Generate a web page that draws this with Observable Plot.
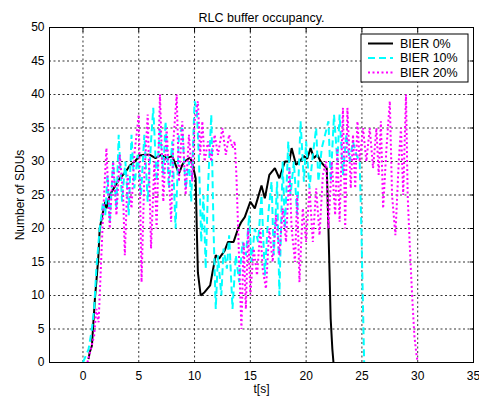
<!DOCTYPE html>
<html><head><meta charset="utf-8">
<script src="https://cdn.jsdelivr.net/npm/d3@7"></script>
<script src="https://cdn.jsdelivr.net/npm/@observablehq/plot@0.6"></script>
<style>
body{margin:0;background:#fff;}
#chart{position:relative;width:479px;height:400px;font-family:"Liberation Sans",Arial,sans-serif;}
</style>
</head><body><div id="chart"></div>
<script>
const title = "RLC buffer occupancy.";
const xLabel = "t[s]";
const yLabel = "Number of SDUs";
const seriesNames = ["BIER 0%", "BIER 10%", "BIER 20%"];
const seriesColors = ["#000000", "#00ffff", "#ff00ff"];
const seriesDash = [null, "7,4", "2,2.5"];
const xTicks = [0, 5, 10, 15, 20, 25, 30, 35];
const yTicks = [0, 5, 10, 15, 20, 25, 30, 35, 40, 45, 50];

// BIER 0%
const t0 = [0.5,0.6,0.8,1.07,1.37,1.5,1.8,2.0,2.1,2.4,2.9,3.3,3.8,4.2,4.65,5.1,5.5,6.0,6.5,7.0,7.5,8.0,8.3,8.6,8.9,9.1,9.6,9.8,10.1,10.2,10.3,10.55,10.9,11.4,11.6,11.9,12.2,12.4,12.7,13.0,13.5,13.9,14.2,14.5,15.0,15.4,16.0,16.3,16.7,17.2,17.6,18.1,18.5,18.7,19.1,19.4,19.8,20.1,20.4,20.7,21.0,21.3,21.6,21.85,22.0,22.2,22.35,22.45];
const v0 = [0.5,1.5,2.5,9.5,15.5,20,22.5,24,23,25,26.4,27.5,28.4,29.4,30,30.9,31,31,30.5,31,30.5,30.8,29.5,28.2,29.5,30,30.6,29.7,27.5,20,13.4,10,10.5,11.5,13.4,16,15.5,16,16.7,18,18,20,21,21.7,24,23,26.4,24.5,28,29,27.5,30,30,32,29.5,30,30.8,30.4,32,30.5,31,30,29.4,29,20,6.5,2,0];

// BIER 10%
const t10 = [0.0,0.5,0.8,1.0,1.2,1.5,1.8,2.0,2.2,2.4,2.7,3.0,3.2,3.5,3.8,4.1,4.35,4.6,4.9,5.2,5.5,5.8,6.1,6.3,6.6,6.9,7.2,7.4,7.7,8.0,8.3,8.6,8.9,9.2,9.5,9.7,10.0,10.2,10.4,10.6,10.8,11.0,11.2,11.5,11.7,11.9,12.1,12.4,12.6,12.9,13.1,13.4,13.7,14.0,14.3,14.6,14.9,15.1,15.4,15.7,16.0,16.3,16.6,16.9,17.1,17.4,17.6,17.9,18.1,18.4,18.6,18.9,19.2,19.5,19.8,20.0,20.3,20.6,20.9,21.1,21.4,21.7,22.0,22.2,22.5,22.8,23.0,23.3,23.6,23.9,24.2,24.5,24.8,24.95,25.1,25.2];
const v10 = [0,2,5,8,14,20,24,22,28,21,30,23,34,24,30,22,34,26,31,25,34,24,33,38,27,35,28,36,26,33,20,34,35,26,30,24,39,38,30,18,25,14,26,37,20,8,16,10,17,14,19,8,16,12,18,16,22,15,20,18,25,13,22,27,16,27,10,30,20,33,25,30,22,36,27,33,26,31,35,27,32,34,36,27,37,30,37,28,34,30,33,31,30,20,8,0];

// BIER 20%
const t20 = [0.4,0.7,1.0,1.2,1.4,1.6,1.8,2.1,2.4,2.7,3.0,3.3,3.6,3.75,4.0,4.35,4.6,5.0,5.25,5.5,5.8,6.1,6.4,6.6,6.9,7.2,7.5,7.9,8.1,8.4,8.6,8.9,9.2,9.5,9.8,10.0,10.3,10.5,10.7,10.9,11.2,11.5,11.8,12.1,12.5,12.8,13.1,13.4,13.6,13.75,14.0,14.2,14.4,14.6,14.8,15.0,15.3,15.6,15.9,16.1,16.4,16.7,17.0,17.3,17.6,17.9,18.2,18.5,18.7,19.0,19.2,19.4,19.7,20.0,20.3,20.6,20.9,21.2,21.5,21.8,22.0,22.3,22.6,22.8,23.0,23.3,23.5,23.7,24.0,24.2,24.4,24.6,24.8,25.1,25.4,25.7,26.0,26.3,26.5,26.7,26.9,27.2,27.5,27.7,28.0,28.3,28.5,28.7,28.95,29.1,29.3,29.5,29.7,29.9,30.0];
const v20 = [0,2,4,8,6,14,22,32,20,30,22,31,25,16,28,23,31,37,12,28,37,17,30,20,40,24,35,21,33,40,27,36,25,34,27,36,39,31,36,30,33,30,34,31,35,31,34,32,33,28,15,5,18,8,20,10,17,13,20,14,11,20,15,22,16,23,18,29,20,15,25,12,23,18,26,18,26,19,28,30,20,30,22,32,21,38,20,38,26,34,26,36,30,35,30,35,29,35,28,36,23,32,39,25,19,30,35,25,40,25,17,10,4,1,0];

const rows = [];
[[t0, v0], [t10, v10], [t20, v20]].forEach(([ts, vs], i) => {
  ts.forEach((t, k) => rows.push({series: seriesNames[i], t, v: vs[k]}));
});

const font = "'Liberation Sans', Arial, sans-serif";
const plot = Plot.plot({
  width: 479,
  height: 400,
  marginLeft: 49,
  marginRight: 6,
  marginTop: 27,
  marginBottom: 38,
  style: {fontFamily: font, fontSize: "12px", background: "#fff", color: "#000"},
  x: {domain: [-3, 35], ticks: xTicks},
  y: {domain: [0, 50], ticks: yTicks},
  marks: [
    Plot.ruleX(xTicks.filter(d => d > -3 && d < 35), {x: d => d, stroke: "#000", strokeOpacity: 0.8, strokeDasharray: "2,2.5"}),
    Plot.ruleY(yTicks.filter(d => d > 0 && d < 50), {y: d => d, stroke: "#000", strokeOpacity: 0.8, strokeDasharray: "2,2.5"}),
    ...seriesNames.map((name, i) => Plot.line(rows.filter(r => r.series === name), {
      x: "t", y: "v", stroke: seriesColors[i], strokeWidth: 2,
      strokeDasharray: seriesDash[i], strokeLinejoin: "miter", strokeLinecap: "butt"
    })),
    Plot.frame({stroke: "#000", strokeWidth: 1}),
    Plot.axisX({ticks: xTicks, tickSize: 0, tickPadding: 9, fontSize: 12, label: xLabel, labelAnchor: "center", labelArrow: "none", labelOffset: 30}),
    Plot.axisY({ticks: yTicks, tickSize: 0, tickPadding: 5, fontSize: 12, label: yLabel, labelAnchor: "center", labelArrow: "none", labelOffset: 34}),
    Plot.axisY({anchor: "right", ticks: yTicks, tickSize: -4, tickFormat: () => "", label: null}),
    Plot.axisX({anchor: "top", ticks: xTicks, tickSize: -4, tickFormat: () => "", label: null}),
    Plot.text([title], {frameAnchor: "top", dy: -14, fontSize: 12.5, fill: "#000"})
  ]
});
document.getElementById("chart").appendChild(plot);

// legend box (decoration)
const svg = d3.select(plot);
const lg = svg.append("g").attr("transform", "translate(361,34)");
lg.append("rect").attr("width", 107).attr("height", 48).attr("fill", "#fff").attr("stroke", "#000");
seriesNames.forEach((name, i) => {
  const y = 9.5 + i * 14.5;
  lg.append("line").attr("x1", 7).attr("x2", 32).attr("y1", y).attr("y2", y)
    .attr("stroke", seriesColors[i]).attr("stroke-width", 2)
    .attr("stroke-dasharray", seriesDash[i]);
  lg.append("text").attr("x", 39).attr("y", y).attr("dy", "0.35em")
    .attr("text-anchor", "start")
    .attr("font-size", 12.5).attr("font-family", font).attr("fill", "#000").text(name);
});
</script>
</body></html>
